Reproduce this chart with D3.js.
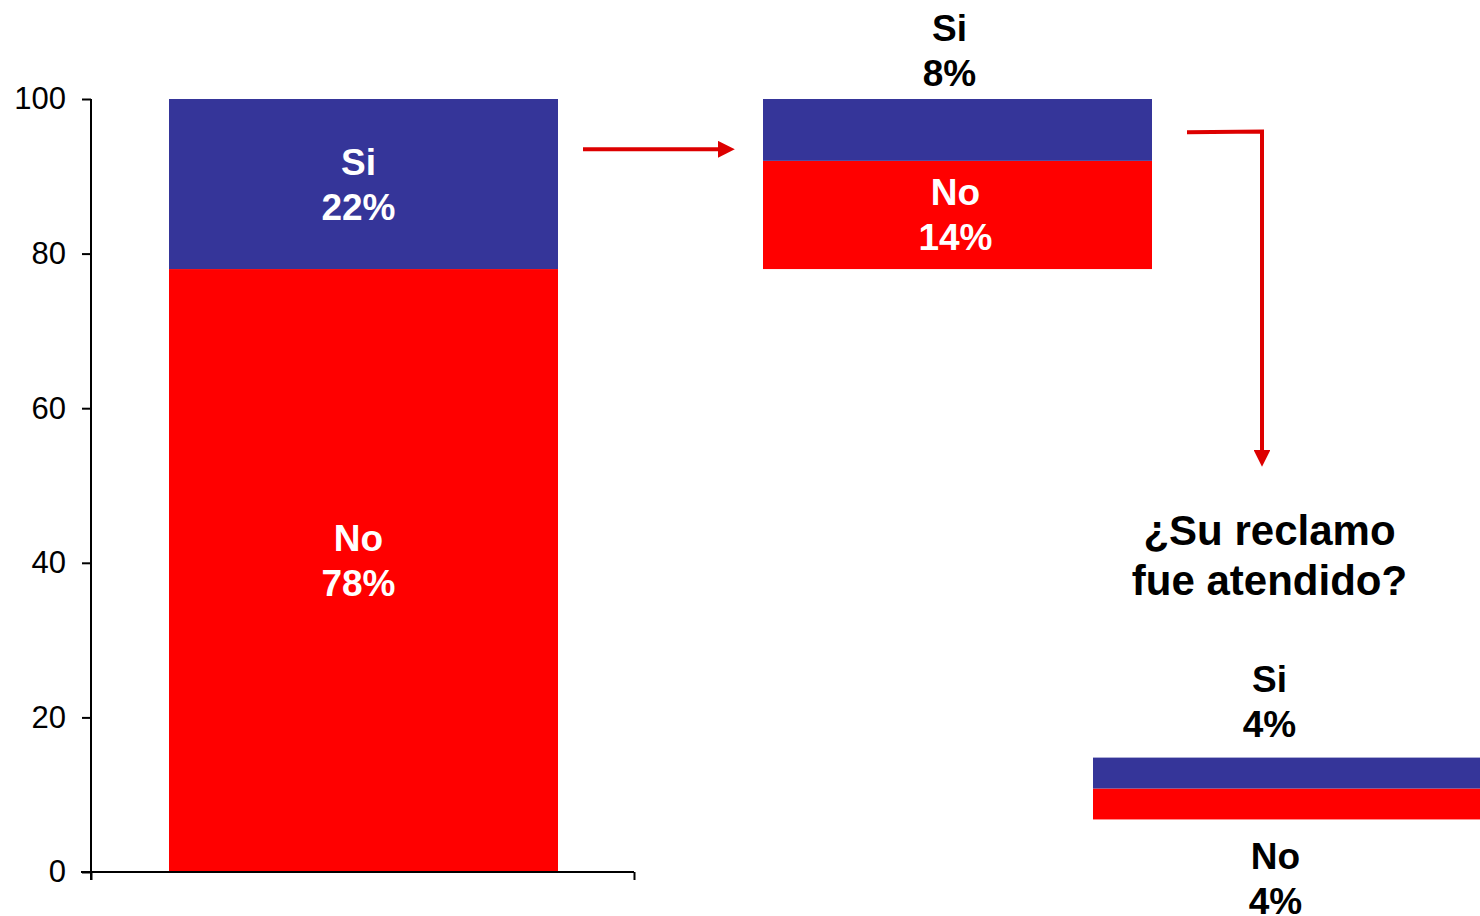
<!DOCTYPE html>
<html>
<head>
<meta charset="utf-8">
<script src="https://cdn.jsdelivr.net/npm/d3@7"></script>
<style>
  html, body { margin: 0; padding: 0; background: #fff; }
  svg { display: block; font-family: "Liberation Sans", Arial, sans-serif; }
</style>
</head>
<body>
<svg id="chart" width="1480" height="916"></svg>
<script>
// Answer groups: total respondents, those who complained, and whether the complaint was handled
const groups = ["total", "reclamo", "atendido"];
const answers = ["No", "Si"];
const valuesNo = [78, 14, 4];
const valuesSi = [22, 8, 4];
const yTicks = [0, 20, 40, 60, 80, 100];
const question = ["¿Su reclamo", "fue atendido?"];

const colors = { Si: "#353599", No: "#ff0000", arrow: "#dd0000" };

const svg = d3.select("#chart");
const y = d3.scaleLinear().domain([0, 100]).range([872, 99]);
const xAxisScale = d3.scaleLinear().domain([0, 1]).range([91, 634]);

// Horizontal placement and stacking base for each group
const barWidth = 389;
const layout = {
  total:    { x: 169,  base: 0 },
  reclamo:  { x: 763,  base: 78 },
  atendido: { x: 1093, base: 6.8 }
};

// Axes
const yAxis = svg.append("g")
  .attr("transform", "translate(91,0)")
  .call(d3.axisLeft(y).tickValues(yTicks).tickSize(9).tickPadding(16).tickSizeOuter(0));
yAxis.select(".domain").attr("stroke", "#000").attr("stroke-width", 2)
  .attr("d", `M0,${y(100)}V${y(0) + 8}`);
yAxis.selectAll(".tick line").attr("stroke", "#000").attr("stroke-width", 2);
yAxis.selectAll(".tick text")
  .attr("font-size", 31).attr("fill", "#000")
  .attr("font-family", "'Liberation Sans', Arial, sans-serif");

// Stacked segments
const stacked = groups.map((g, i) => {
  const base = layout[g].base;
  return [
    { group: g, key: "No", value: valuesNo[i], y0: base, y1: base + valuesNo[i] },
    { group: g, key: "Si", value: valuesSi[i], y0: base + valuesNo[i], y1: base + valuesNo[i] + valuesSi[i] }
  ];
}).flat();

svg.append("g").selectAll("rect")
  .data(stacked)
  .join("rect")
  .attr("x", d => layout[d.group].x)
  .attr("width", barWidth)
  .attr("y", d => y(d.y1))
  .attr("height", d => y(d.y0) - y(d.y1))
  .attr("fill", d => colors[d.key]);

const xAxis = svg.append("g")
  .attr("transform", `translate(0,${y(0)})`)
  .call(d3.axisBottom(xAxisScale).tickValues([0, 1]).tickSize(8).tickFormat("").tickSizeOuter(0));
xAxis.select(".domain").attr("stroke", "#000").attr("stroke-width", 2)
  .attr("d", `M81,0H634`);
xAxis.selectAll(".tick line").attr("stroke", "#000").attr("stroke-width", 2);

// Segment labels: name and percentage on two lines
const labelPos = {
  "total-Si":    { dx: -5, dy: 0,   inside: true },
  "total-No":    { dx: -5, dy: -10, inside: true },
  "reclamo-Si":  { dx: -8, above: 71 },
  "reclamo-No":  { dx: -2, dy: 0,   inside: true },
  "atendido-Si": { dx: -18, above: 79 },
  "atendido-No": { dx: -12, below: 37 }
};

const labels = svg.append("g")
  .attr("font-weight", "bold").attr("font-size", 37).attr("text-anchor", "middle");

stacked.forEach(d => {
  const p = labelPos[d.group + "-" + d.key];
  const cx = layout[d.group].x + barWidth / 2 + p.dx;
  let firstCenter;
  if (p.inside) {
    firstCenter = (y(d.y0) + y(d.y1)) / 2 + p.dy - 22.5;
  } else if (p.above) {
    firstCenter = y(d.y1) - p.above;
  } else {
    firstCenter = y(d.y0) + p.below;
  }
  const t = labels.append("text")
    .attr("fill", p.inside ? "#fff" : "#000")
    .attr("x", cx);
  [d.key, d.value + "%"].forEach((line, k) => {
    t.append("tspan")
      .attr("x", cx)
      .attr("y", firstCenter + 13 + k * 45)
      .text(line);
  });
});

// Question heading over the last group
const qx = layout.atendido.x + barWidth / 2 - 18;
svg.append("text")
  .attr("text-anchor", "middle").attr("font-weight", "bold").attr("font-size", 42)
  .selectAll("tspan").data(question).join("tspan")
  .attr("x", qx)
  .attr("y", (d, i) => 545 + i * 50)
  .text(d => d);

// Flow arrows
const defs = svg.append("defs");
defs.append("marker")
  .attr("id", "head").attr("viewBox", "0 0 10 10")
  .attr("refX", 0).attr("refY", 5)
  .attr("markerWidth", 4.4).attr("markerHeight", 4.2)
  .attr("markerUnits", "strokeWidth").attr("orient", "auto")
  .append("path").attr("d", "M0,0L10,5L0,10Z").attr("fill", colors.arrow);

const arrowY = y(93.5);
svg.append("path")
  .attr("d", `M${layout.total.x + barWidth + 25},${arrowY}H${layout.reclamo.x - 45}`)
  .attr("stroke", colors.arrow).attr("stroke-width", 4).attr("fill", "none")
  .attr("marker-end", "url(#head)");

const turnX = layout.reclamo.x + barWidth + 110;
svg.append("path")
  .attr("d", `M${layout.reclamo.x + barWidth + 35},${y(95.7)}L${turnX},${y(95.8)}V450`)
  .attr("stroke", colors.arrow).attr("stroke-width", 4).attr("fill", "none")
  .attr("marker-end", "url(#head)");
</script>
</body>
</html>
